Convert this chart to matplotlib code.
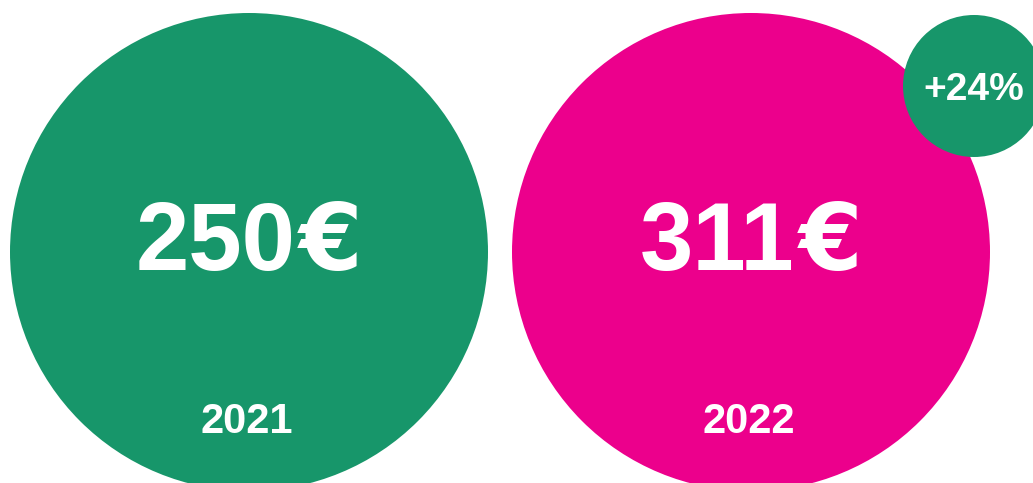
import matplotlib.pyplot as plt
from matplotlib.patches import Circle

plt.rcParams['font.family'] = ['Liberation Sans', 'DejaVu Sans']

years = ['2021', '2022']
values = [250, 311]
colors = ['#17966A', '#EC008C']
change_color = '#17966A'

fig = plt.figure(figsize=(10.33, 4.83), dpi=100)
ax = fig.add_axes([0, 0, 1, 1])
ax.set_xlim(0, 1033)
ax.set_ylim(483, 0)
ax.set_aspect('equal')
ax.axis('off')

# layout (pixels)
cx = [249, 751]
cy = 252
r = 239

fig.canvas.draw()
rend = fig.canvas.get_renderer()

for i in range(len(years)):
    ax.add_patch(Circle((cx[i], cy), r, color=colors[i], lw=0))
    num = ax.text(0, 270, str(values[i]), color='white', fontsize=69,
                  fontweight='bold', ha='left', va='baseline')
    eur = ax.text(0, 270, '€', color='white', fontsize=66, family='DejaVu Sans',
                  fontweight='bold', ha='left', va='baseline')
    w1 = num.get_window_extent(rend).width
    w2 = eur.get_window_extent(rend).width
    gap = 4
    left = cx[i] - (w1 + w2 + gap) / 2
    num.set_x(left)
    eur.set_x(left + w1 + gap)
    ax.text(cx[i] - 2, 433, years[i], color='white', fontsize=30,
            fontweight='bold', ha='center', va='baseline')

pct = round((values[1] - values[0]) / values[0] * 100)
ax.add_patch(Circle((974, 86), 71, color=change_color, lw=0))
ax.text(974, 100, f'+{pct}%', color='white', fontsize=28,
        fontweight='bold', ha='center', va='baseline')

plt.savefig('out.png', dpi=100)
